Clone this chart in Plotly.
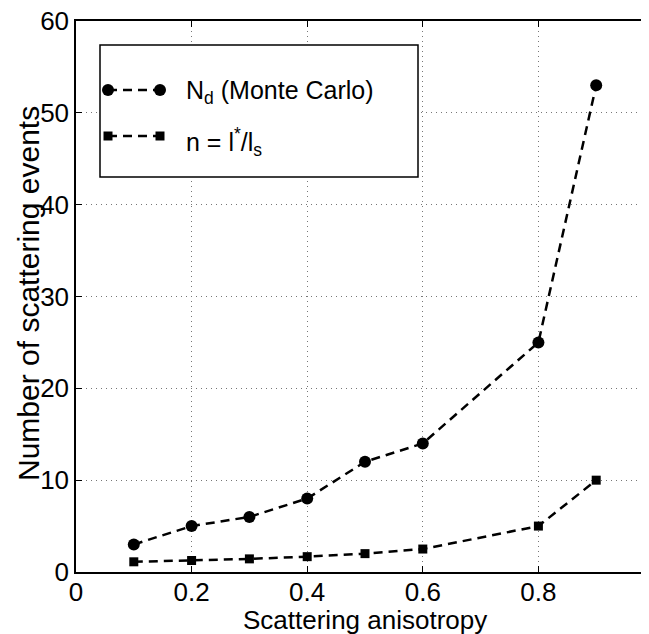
import plotly.graph_objects as go

# data
anisotropy = [0.1, 0.2, 0.3, 0.4, 0.5, 0.6, 0.8, 0.9]
nd_monte_carlo = [3, 5, 6, 8, 12, 14, 25, 53]
n_ratio = [1.11, 1.25, 1.43, 1.67, 2.0, 2.5, 5.0, 10.0]
x_ticks = [0, 0.2, 0.4, 0.6, 0.8, 1]
x_ticklabels = ["0", "0.2", "0.4", "0.6", "0.8", "1"]
y_ticks = [0, 10, 20, 30, 40, 50, 60]
legend_labels = ["N<sub>d</sub> (Monte Carlo)", "n = l<sup>*</sup>/l<sub>s</sub>"]
x_title = "Scattering anisotropy"
y_title = "Number of scattering events"

FONT = "Liberation Sans, Arial, Helvetica, sans-serif"
DASH = "9px,6px"

fig = go.Figure()
fig.add_trace(go.Scatter(
    x=anisotropy, y=nd_monte_carlo, mode="lines+markers",
    line=dict(color="black", width=2.5, dash=DASH),
    marker=dict(symbol="circle", size=12, color="black"),
    showlegend=False, cliponaxis=False))
fig.add_trace(go.Scatter(
    x=anisotropy, y=n_ratio, mode="lines+markers",
    line=dict(color="black", width=2.5, dash=DASH),
    marker=dict(symbol="square", size=9, color="black"),
    showlegend=False, cliponaxis=False))

W, H = 649, 634
ml, mr, mt, mb = 68, 3, 13, 70
pw, ph = W - ml - mr, H - mt - mb

def px(xp):
    return (xp - ml) / pw

def py(yp):
    return (H - mb - yp) / ph

shapes = []
# legend box
shapes.append(dict(type="rect", xref="paper", yref="paper",
                   x0=px(92), x1=px(410), y0=py(169), y1=py(37),
                   line=dict(color="black", width=1.5), fillcolor="white", layer="above"))
annotations = []
rows = [(82, "circle", 84), (128, "square", 134)]
for (yc, sym, ytext), label in zip(rows, legend_labels):
    shapes.append(dict(type="line", xref="paper", yref="paper",
                       x0=px(100), x1=px(152), y0=py(yc), y1=py(yc),
                       line=dict(color="black", width=2.5, dash=DASH), layer="above"))
    for xc in (100, 152):
        r = 6 if sym == "circle" else 4.5
        shapes.append(dict(type="circle" if sym == "circle" else "rect",
                           xref="paper", yref="paper",
                           xsizemode="pixel", ysizemode="pixel",
                           xanchor=px(xc), yanchor=py(yc),
                           x0=-r, x1=r, y0=-r, y1=r,
                           fillcolor="black", line=dict(color="black", width=0),
                           layer="above"))
    annotations.append(dict(xref="paper", yref="paper", x=px(176), y=py(ytext),
                            xanchor="left", yanchor="middle", text=label,
                            showarrow=False, font=dict(family=FONT, size=25, color="black")))

# axis titles
annotations.append(dict(xref="paper", yref="paper", x=0.5, y=py(629),
                        xanchor="center", yanchor="bottom", text=x_title,
                        showarrow=False, font=dict(family=FONT, size=26, color="black")))
annotations.append(dict(xref="paper", yref="paper", x=px(20), y=py(286),
                        xanchor="center", yanchor="middle", text=y_title, textangle=-90,
                        showarrow=False, font=dict(family=FONT, size=30, color="black")))

fig.update_layout(
    width=W, height=H,
    margin=dict(l=ml, r=mr, t=mt, b=mb, autoexpand=False),
    paper_bgcolor="white", plot_bgcolor="white",
    font=dict(family=FONT, size=26, color="black"),
    shapes=shapes, annotations=annotations,
    xaxis=dict(range=[0, 1], tickvals=x_ticks, ticktext=x_ticklabels,
               showgrid=True, gridcolor="#777", griddash="1px,4px", gridwidth=1,
               showline=True, linecolor="black", linewidth=1.5, mirror="ticks",
               ticks="inside", ticklen=6, tickcolor="black",
               ticklabeloverflow="allow", ticklabelstandoff=-4,
               zeroline=False, automargin=False),
    yaxis=dict(range=[0, 60], tickvals=y_ticks,
               showgrid=True, gridcolor="#777", griddash="1px,4px", gridwidth=1,
               showline=True, linecolor="black", linewidth=1.5, mirror="ticks",
               ticks="inside", ticklen=6, tickcolor="black",
               ticklabeloverflow="allow",
               zeroline=False, automargin=False),
)

fig.write_html("out.html")
